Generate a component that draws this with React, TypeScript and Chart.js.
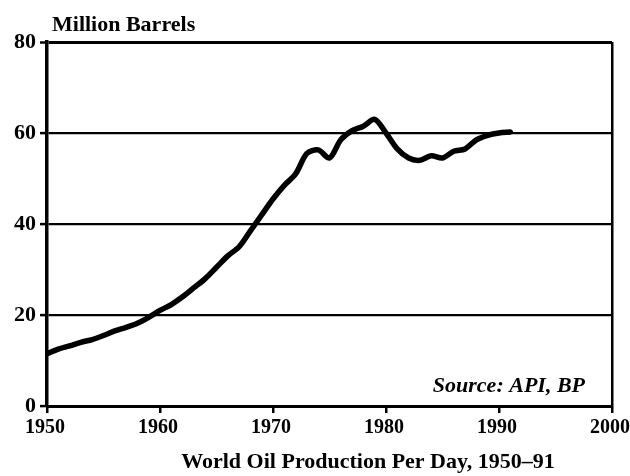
import React, { useEffect, useRef } from "react";
import { Chart, registerables } from "chart.js";

Chart.register(...registerables);

const years: number[] = [
  1950, 1951, 1952, 1953, 1954, 1955, 1956, 1957, 1958, 1959,
  1960, 1961, 1962, 1963, 1964, 1965, 1966, 1967, 1968, 1969,
  1970, 1971, 1972, 1973, 1974, 1975, 1976, 1977, 1978, 1979,
  1980, 1981, 1982, 1983, 1984, 1985, 1986, 1987, 1988, 1989,
  1990, 1991,
];
const production: number[] = [
  11.5, 12.5, 13.2, 14.0, 14.6, 15.5, 16.5, 17.3, 18.2, 19.5,
  21.0, 22.3, 24.0, 26.0, 28.0, 30.5, 33.0, 35.0, 38.5, 42.0,
  45.5, 48.5, 51.0, 55.5, 56.3, 54.5, 58.5, 60.5, 61.5, 63.0,
  60.0, 56.5, 54.5, 54.0, 55.0, 54.5, 56.0, 56.5, 58.5, 59.5,
  60.0, 60.2,
];
const xTicks: number[] = [1950, 1960, 1970, 1980, 1990, 2000];
const yTicks: number[] = [0, 20, 40, 60, 80];
const yUnitLabel = "Million Barrels";
const sourceLabel = "Source: API, BP";
const chartTitle = "World Oil Production Per Day, 1950\u201391";

const SERIF = "'Liberation Serif', 'Times New Roman', serif";

const textPlugin = {
  id: "textPlugin",
  afterDraw(chart: any) {
    const { ctx, chartArea } = chart;
    ctx.save();
    ctx.fillStyle = "#000";
    ctx.textBaseline = "alphabetic";
    ctx.font = `bold 22px ${SERIF}`;
    ctx.textAlign = "left";
    ctx.fillText(yUnitLabel, 52, 31);
    ctx.font = `italic bold 22px ${SERIF}`;
    ctx.textAlign = "right";
    ctx.fillText(sourceLabel, chartArea.right - 27, 392);
    ctx.font = `bold 22px ${SERIF}`;
    ctx.textAlign = "center";
    ctx.fillText(chartTitle, 368, 468);
    ctx.restore();
  },
};

export default function App() {
  const canvasRef = useRef<HTMLCanvasElement | null>(null);

  useEffect(() => {
    if (!canvasRef.current) return;
    const chart = new Chart(canvasRef.current, {
      type: "line",
      data: {
        datasets: [
          {
            data: years.map((y, i) => ({ x: y, y: production[i] })),
            borderColor: "#000",
            borderWidth: 5.5,
            pointRadius: 0,
            tension: 0.3,
            fill: false,
            borderCapStyle: "round",
            borderJoinStyle: "round",
          },
        ],
      },
      options: {
        animation: false,
        responsive: true,
        maintainAspectRatio: false,
        layout: { padding: { left: 0, right: 18, top: 42, bottom: 0 } },
        plugins: {
          legend: { display: false },
          tooltip: { enabled: false },
          title: { display: false },
        },
        scales: {
          x: {
            type: "linear",
            min: 1950,
            max: 2000,
            afterBuildTicks: (scale: any) => {
              scale.ticks = xTicks.map((v) => ({ value: v }));
            },
            afterFit: (scale: any) => {
              scale.height = 70;
              scale.paddingLeft = 0;
              scale.paddingRight = 0;
            },
            border: { display: true, color: "#000", width: 3 },
            grid: {
              display: true,
              drawOnChartArea: true,
              color: (c: any) => (c.tick && c.tick.value === 2000 ? "#000" : "rgba(0,0,0,0)"),
              lineWidth: 2.5,
              tickColor: "#000",
              tickWidth: 2.5,
              tickLength: 7,
            },
            ticks: {
              color: "#000",
              font: { family: SERIF, size: 20, weight: "bold" },
              padding: 3,
              labelOffset: -2,
              maxRotation: 0,
              autoSkip: false,
              callback: (v: any) => String(v),
            },
          },
          y: {
            min: 0,
            max: 80,
            afterBuildTicks: (scale: any) => {
              scale.ticks = yTicks.map((v) => ({ value: v }));
            },
            afterFit: (scale: any) => {
              scale.width = 47;
              scale.paddingTop = 0;
              scale.paddingBottom = 0;
            },
            border: { display: true, color: "#000", width: 3.5 },
            grid: {
              display: true,
              color: "#000",
              lineWidth: (c: any) => (c.tick && c.tick.value === 80 ? 3 : 2.2),
              tickColor: "#000",
              tickWidth: 2.5,
              tickLength: 7,
            },
            ticks: {
              color: "#000",
              font: { family: SERIF, size: 22, weight: "bold" },
              padding: 4,
              callback: (v: any) => String(v),
            },
          },
        },
      },
      plugins: [textPlugin],
    });
    return () => chart.destroy();
  }, []);

  return (
    <div style={{ position: "fixed", left: 0, top: 0, width: 630, height: 476, background: "#fff" }}>
      <canvas ref={canvasRef} />
    </div>
  );
}
